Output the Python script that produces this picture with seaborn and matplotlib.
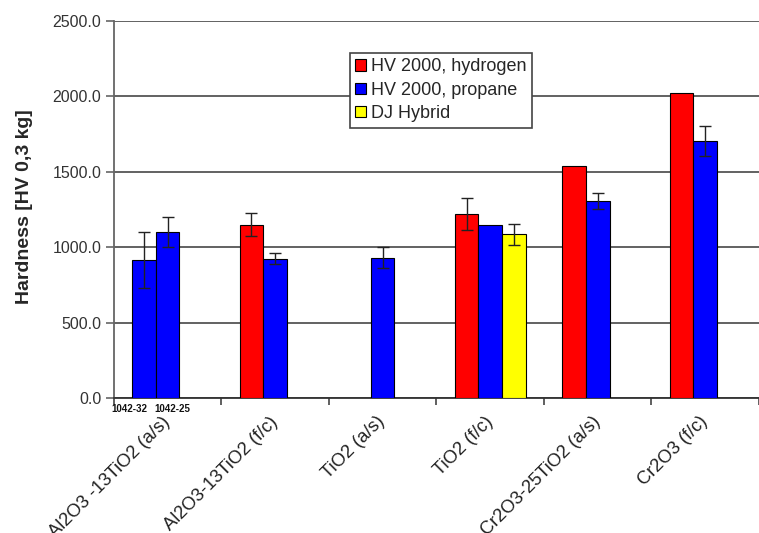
import numpy as np
import pandas as pd
import matplotlib
matplotlib.use("Agg")
import matplotlib.pyplot as plt
from matplotlib.container import BarContainer
from matplotlib.ticker import FormatStrFormatter, FixedLocator
from matplotlib.transforms import ScaledTranslation
import seaborn as sns

# ---- data -------------------------------------------------------------
categories = ["Al2O3 -13TiO2 (a/s)", "Al2O3-13TiO2 (f/c)", "TiO2 (a/s)",
              "TiO2 (f/c)", "Cr2O3-25TiO2 (a/s)", "Cr2O3 (f/c)"]
series = ["HV 2000, hydrogen", "HV 2000, propane", "DJ Hybrid"]

# first slot of the first group holds sample 1042-32 (propane spray)
hydrogen = [915, 1150, np.nan, 1220, 1540, 2020]
propane = [1100, 925, 930, 1150, 1305, 1705]
hybrid = [np.nan, np.nan, np.nan, 1085, np.nan, np.nan]

hydrogen_err = [185, 75, np.nan, 105, np.nan, np.nan]
propane_err = [100, 38, 70, np.nan, 55, 100]
hybrid_err = [np.nan, np.nan, np.nan, 72, np.nan, np.nan]

sample_labels = ["1042-32", "1042-25"]
y_ticks = [0, 500, 1000, 1500, 2000, 2500]

colors = ["#FF0000", "#0000FF", "#FFFF00"]

# ---- long-form table ----------------------------------------------------
values = [hydrogen, propane, hybrid]
errors = [hydrogen_err, propane_err, hybrid_err]
rows = []
for s, vals in zip(series, values):
    for c, v in zip(categories, vals):
        rows.append({"material": c, "series": s, "hardness": v})
df = pd.DataFrame(rows).dropna()

# ---- figure -------------------------------------------------------------
sns.set_style("white")
plt.rcParams["font.family"] = ["Liberation Sans", "DejaVu Sans"]

fig = plt.figure(figsize=(7.59, 5.33), dpi=100)
ax = fig.add_axes([0.150, 0.2533, 0.850, 0.7073])

sns.barplot(data=df, x="material", y="hardness", hue="series",
            order=categories, hue_order=series, palette=colors,
            saturation=1, width=0.66, gap=0, edgecolor="black",
            linewidth=0.8, errorbar=None, ax=ax, zorder=3)

bar_sets = [c for c in ax.containers if isinstance(c, BarContainer)]

# sample 1042-32 was sprayed with propane: colour its bar accordingly
for bar in bar_sets[0]:
    if round(bar.get_x() + bar.get_width() / 2) == 0:
        bar.set_facecolor(colors[1])

# error bars on top of the bars
for i, cont in enumerate(bar_sets):
    for bar in list(cont):
        xc = bar.get_x() + bar.get_width() / 2
        k = int(round(xc))
        e = errors[i][k]
        if not np.isnan(e):
            ax.errorbar(xc, bar.get_height(), yerr=e, fmt="none",
                        ecolor="#222222", elinewidth=1.0, capsize=4,
                        capthick=1.0, zorder=4)

# ---- axes styling --------------------------------------------------------
ax.set_ylim(0, 2500)
ax.set_xlim(-0.5, 5.40)
ax.yaxis.set_major_locator(FixedLocator(y_ticks))
ax.yaxis.set_major_formatter(FormatStrFormatter("%.1f"))
ax.grid(axis="y", color="#555555", linewidth=1.3, zorder=0)
ax.set_axisbelow(True)

for side in ("top", "right"):
    ax.spines[side].set_visible(False)
ax.spines["left"].set_color("#666666")
ax.spines["left"].set_linewidth(1.3)
ax.spines["bottom"].set_color("#333333")
ax.spines["bottom"].set_linewidth(1.3)

ax.tick_params(axis="y", direction="out", length=6, width=1.2,
               color="#666666", labelsize=11.5, labelcolor="#333333", pad=3,
               left=True)
ax.set_xticks(range(len(categories)))
ax.set_xticklabels(categories, rotation=45, ha="right",
                   rotation_mode="anchor", fontsize=13.2, color="#222222")
ax.tick_params(axis="x", which="major", length=0, pad=11)
shift = ScaledTranslation(-6 / 100, 0, fig.dpi_scale_trans)
for lab in ax.get_xticklabels():
    lab.set_transform(lab.get_transform() + shift)
ax.set_xticks(np.arange(-0.5, len(categories), 1.0), minor=True)
ax.tick_params(axis="x", which="minor", direction="out", length=5,
               width=1.2, color="#444444", bottom=True)

ax.set_xlabel("")
ax.set_ylabel("Hardness [HV 0,3 kg]", fontsize=14, fontweight="bold")
ax.yaxis.set_label_coords(-0.126, 0.507)

# sample names under the first group
for lbl, xs in zip(sample_labels, [-0.353, 0.04]):
    ax.text(xs, -0.03, lbl, transform=ax.get_xaxis_transform(),
            ha="center", va="center", fontsize=7, fontweight="bold",
            color="#111111")

# legend
handles, labels = ax.get_legend_handles_labels()
ax.legend(handles, labels, loc="upper left", bbox_to_anchor=(0.366, 0.915),
          borderaxespad=0, frameon=True, fancybox=False, edgecolor="#444444",
          framealpha=1, fontsize=13, handlelength=0.6, handleheight=0.6,
          handletextpad=0.25, labelspacing=0.35, borderpad=0.3)
ax.get_legend().get_frame().set_linewidth(1.2)

fig.savefig("out.png", dpi=100)
